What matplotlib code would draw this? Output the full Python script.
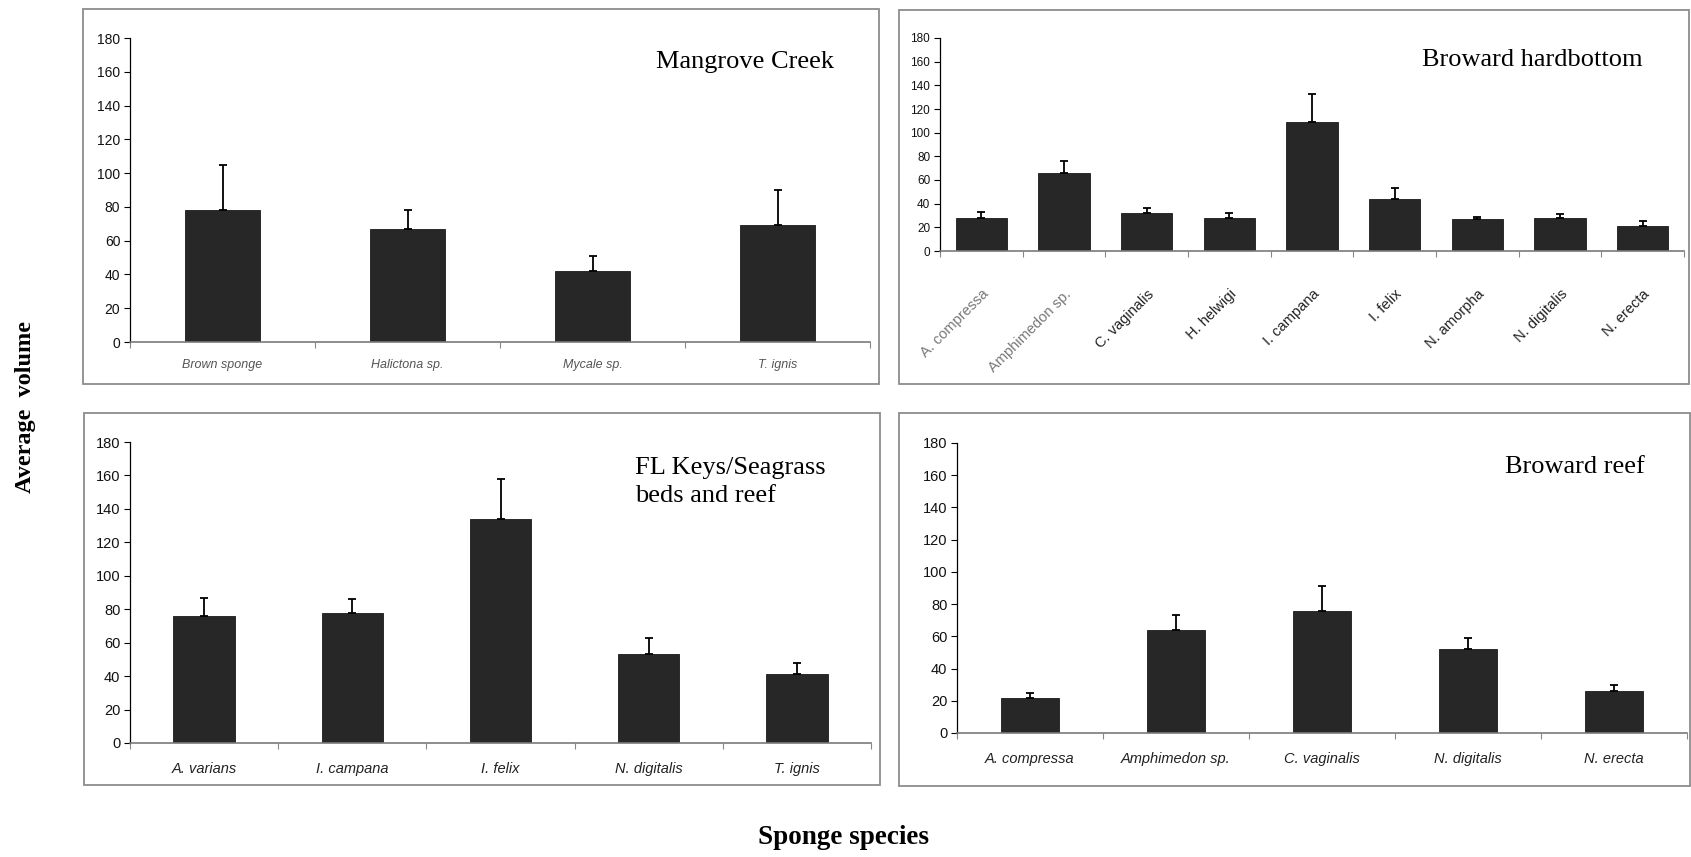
import numpy as np
import matplotlib
matplotlib.use("Agg")
import matplotlib.pyplot as plt
from matplotlib.patches import Rectangle

W, H = 1691, 857

# sponge volumes by site (mean and upper error)
mangrove_species = ["Brown sponge", "Halictona sp.", "Mycale sp.", "T. ignis"]
mangrove_mean = [78, 67, 42, 69]
mangrove_err = [27, 11, 9, 21]

hardbottom_species = ["A. compressa", "Amphimedon sp.", "C. vaginalis", "H. helwigi",
                      "I. campana", "I. felix", "N. amorpha", "N. digitalis", "N. erecta"]
hardbottom_mean = [28, 66, 32, 28, 109, 44, 27, 28, 21]
hardbottom_err = [5, 10, 4, 4, 24, 9, 2, 3, 4]

keys_species = ["A. varians", "I. campana", "I. felix", "N. digitalis", "T. ignis"]
keys_mean = [76, 78, 134, 53, 41]
keys_err = [11, 8, 24, 10, 7]

reef_species = ["A. compressa", "Amphimedon sp.", "C. vaginalis", "N. digitalis", "N. erecta"]
reef_mean = [22, 64, 76, 52, 26]
reef_err = [3, 9, 15, 7, 4]

yticks = list(range(0, 181, 20))

sans = ["Liberation Sans", "DejaVu Sans"]
serif = ["Liberation Serif", "DejaVu Serif"]


def fx(x):
    return x / W


def fy(y):
    return 1 - y / H


def axes_at(fig, x0, x1, ytop, ybot):
    return fig.add_axes([fx(x0), fy(ybot), (x1 - x0) / W, (ybot - ytop) / H])


def box(fig, x0, x1, ytop, ybot):
    fig.add_artist(Rectangle((fx(x0), fy(ybot)), (x1 - x0) / W, (ybot - ytop) / H,
                             transform=fig.transFigure, fill=False,
                             edgecolor="#8c8c8c", lw=1.3))


def bar_panel(ax, names, means, errs, width, ysize=10, xsize=10, xcolor="#222222",
              rot=0):
    x = np.arange(len(names))
    ax.bar(x, means, width=width, color="#272727", edgecolor="#1a1a1a", lw=0.6, zorder=2)
    lower = np.zeros(len(errs))
    ax.errorbar(x, means, yerr=[lower, errs], fmt="none", ecolor="black",
                elinewidth=1.3, capsize=3.2, capthick=1.3, zorder=3)
    ax.set_xlim(-0.5, len(names) - 0.5)
    ax.set_ylim(0, 180)
    ax.set_yticks(yticks)
    ax.set_yticklabels([str(t) for t in yticks], family=sans, fontsize=ysize,
                       color="#111111")
    ax.set_xticks(x)
    if rot:
        ax.set_xticklabels(names, family=sans, fontsize=xsize, color=xcolor,
                           rotation=rot, ha="right", va="top", rotation_mode="anchor")
    else:
        ax.set_xticklabels(names, family=sans, style="italic", fontsize=xsize,
                           color=xcolor)
    ax.set_xticks(np.arange(len(names) + 1) - 0.5, minor=True)
    ax.tick_params(axis="x", which="major", length=0, pad=14)
    ax.tick_params(axis="x", which="minor", length=4, direction="out",
                   color="#888888", width=0.8)
    ax.tick_params(axis="y", length=4, width=0.8, pad=3, direction="out")
    ax.spines["top"].set_visible(False)
    ax.spines["right"].set_visible(False)
    ax.spines["left"].set_linewidth(0.9)
    ax.spines["bottom"].set_color("#7a7a7a")
    ax.spines["bottom"].set_linewidth(1.2)
    ax.patch.set_alpha(0)


fig = plt.figure(figsize=(W / 100, H / 100), dpi=100)

box(fig, 83, 879, 9, 384)
box(fig, 899, 1689, 10, 384)
box(fig, 84, 880, 413, 785)
box(fig, 899, 1690, 413, 786)

ax1 = axes_at(fig, 130, 870, 38, 342)
bar_panel(ax1, mangrove_species, mangrove_mean, mangrove_err, 0.41,
          ysize=10, xsize=9, xcolor="#555555")
ax1.tick_params(axis="x", which="major", pad=12)

ax2 = axes_at(fig, 940, 1684, 38, 251)
bar_panel(ax2, hardbottom_species, hardbottom_mean, hardbottom_err, 0.62,
          ysize=8.5, xsize=10.5, rot=45)
ax2.tick_params(axis="x", which="major", pad=26)
for lbl in ax2.get_xticklabels()[:2]:
    lbl.set_color("#777777")

ax3 = axes_at(fig, 130, 871, 442, 743)
bar_panel(ax3, keys_species, keys_mean, keys_err, 0.415, ysize=10.5, xsize=10.5)

ax4 = axes_at(fig, 957, 1687, 443, 733)
bar_panel(ax4, reef_species, reef_mean, reef_err, 0.40, ysize=10.5, xsize=10.5)

title_kw = dict(family=serif, fontsize=19, color="black")
fig.text(fx(745), fy(62), "Mangrove Creek", ha="center", va="center", **title_kw)
fig.text(fx(1532), fy(60), "Broward hardbottom", ha="center", va="center", **title_kw)
fig.text(fx(635), fy(482), "FL Keys/Seagrass\nbeds and reef", ha="left", va="center",
         linespacing=1.3, **title_kw)
fig.text(fx(1575), fy(467), "Broward reef", ha="center", va="center", **title_kw)

fig.text(fx(26), fy(407), "Average  volume", rotation=90, ha="center", va="center",
         family=serif, fontsize=17.5, fontweight="bold")
fig.text(fx(844), fy(838), "Sponge species", ha="center", va="center",
         family=serif, fontsize=19.5, fontweight="bold")

fig.savefig("out.png", dpi=100)
